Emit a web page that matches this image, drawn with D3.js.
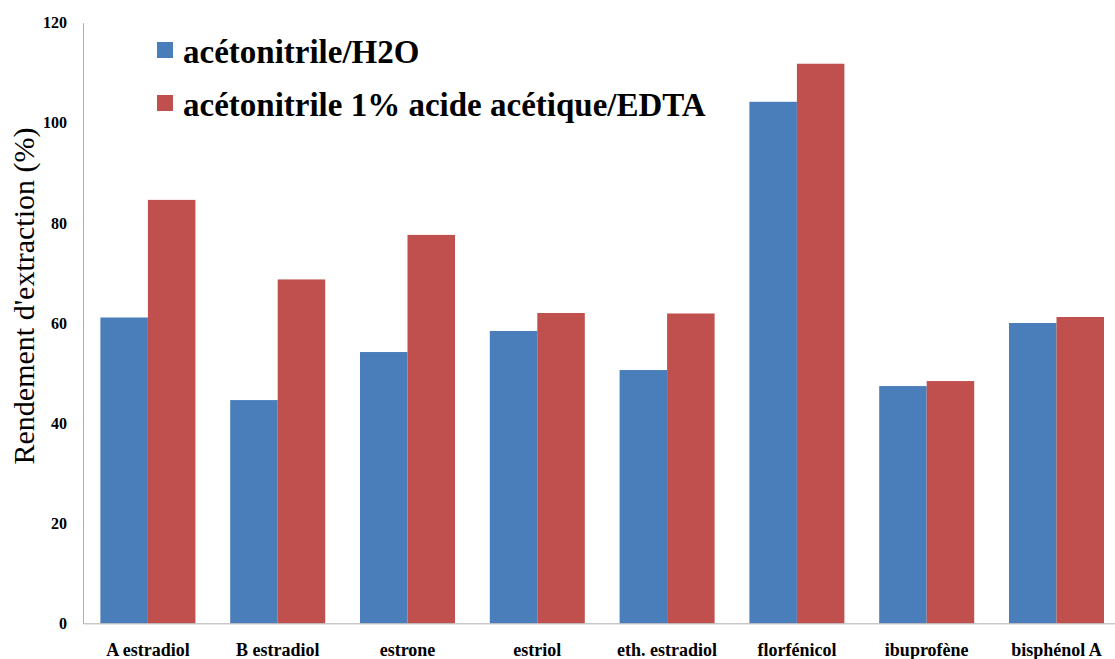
<!DOCTYPE html>
<html lang="fr">
<head>
    <meta charset="UTF-8">
    <title>Rendement d'extraction</title>
    <style>
        body {
            margin: 0;
            background: #ffffff;
        }
        svg text {
            font-family: "Liberation Serif", "Times New Roman", serif;
        }
    </style>
</head>
<body>
    <div id="chart"></div>

    <script src="https://d3js.org/d3.v7.min.js"></script>
    <script>
        // Data
        var categories = ["A estradiol", "B estradiol", "estrone", "estriol", "eth. estradiol", "florfénicol", "ibuprofène", "bisphénol A"];
        var seriesNames = ["acétonitrile/H2O", "acétonitrile 1% acide acétique/EDTA"];
        var waterValues = [61.1, 44.6, 54.2, 58.4, 50.6, 104.2, 47.4, 60.0];
        var edtaValues = [84.6, 68.7, 77.6, 62.0, 61.9, 111.8, 48.4, 61.2];
        var yTicks = [0, 20, 40, 60, 80, 100, 120];
        var colors = ["#4a7ebb", "#c0504d"];

        var width = 1115;
        var height = 659;

        // plot area (right side is cut off by the image edge, as in the original)
        var plotLeft = 83;
        var plotRight = 83 + 8 * 129.8;
        var plotTop = 22.7;
        var plotBottom = 623.3;

        var svg = d3.select("#chart")
            .append("svg")
            .attr("width", width)
            .attr("height", height);

        svg.append("rect")
            .attr("width", width)
            .attr("height", height)
            .attr("fill", "#ffffff");

        var x = d3.scaleBand()
            .domain(categories)
            .range([plotLeft, plotRight])
            .paddingInner(0.268)
            .paddingOuter(0.134);

        var xSub = d3.scaleBand()
            .domain([0, 1])
            .range([0, x.bandwidth()]);

        var y = d3.scaleLinear()
            .domain([0, 120])
            .range([plotBottom, plotTop]);

        var rows = categories.map(function(c, i) {
            return { name: c, values: [waterValues[i], edtaValues[i]] };
        });

        // bars
        var groups = svg.selectAll(".group")
            .data(rows)
            .enter()
            .append("g")
            .attr("class", "group")
            .attr("transform", function(d) { return "translate(" + x(d.name) + ",0)"; });

        groups.selectAll("rect")
            .data(function(d) { return d.values; })
            .enter()
            .append("rect")
            .attr("x", function(d, i) { return xSub(i); })
            .attr("y", function(d) { return y(d); })
            .attr("width", xSub.bandwidth())
            .attr("height", function(d) { return y(0) - y(d); })
            .attr("fill", function(d, i) { return colors[i]; });

        // y axis
        var yAxis = svg.append("g")
            .attr("transform", "translate(" + plotLeft + ",0)")
            .call(d3.axisLeft(y).tickValues(yTicks).tickSize(0).tickPadding(16));

        yAxis.select(".domain").attr("stroke", "#b0b0b0");
        yAxis.selectAll("text")
            .attr("font-size", "16px")
            .attr("font-weight", "bold")
            .attr("fill", "#000000")
            .style("font-family", "'Liberation Serif', serif");

        // x axis
        var xAxis = svg.append("g")
            .attr("transform", "translate(0," + plotBottom + ")")
            .call(d3.axisBottom(x).tickSize(0).tickPadding(20));

        xAxis.select(".domain").attr("stroke", "#b0b0b0");
        xAxis.selectAll("text")
            .attr("font-size", "18px")
            .attr("font-weight", "bold")
            .attr("fill", "#000000")
            .style("font-family", "'Liberation Serif', serif");

        // y axis title
        svg.append("text")
            .attr("transform", "translate(34,296) rotate(-90)")
            .attr("text-anchor", "middle")
            .attr("font-size", "30px")
            .attr("fill", "#000000")
            .text("Rendement d'extraction (%)");

        // legend
        var legend = svg.selectAll(".legend")
            .data(seriesNames)
            .enter()
            .append("g")
            .attr("class", "legend")
            .attr("transform", function(d, i) { return "translate(157," + (42 + i * 53) + ")"; });

        legend.append("rect")
            .attr("width", 16)
            .attr("height", 16)
            .attr("fill", function(d, i) { return colors[i]; });

        legend.append("text")
            .attr("x", 26)
            .attr("y", 21)
            .attr("font-size", "33px")
            .attr("font-weight", "bold")
            .attr("fill", "#000000")
            .text(function(d) { return d; });
    </script>
</body>
</html>
